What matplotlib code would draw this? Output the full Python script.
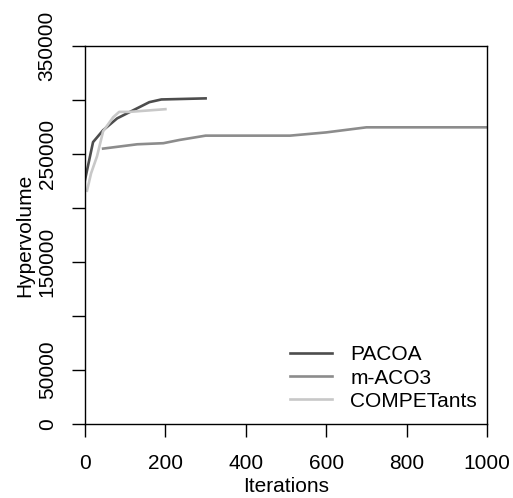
import matplotlib
matplotlib.use("Agg")
import matplotlib.pyplot as plt

plt.rcParams['font.family'] = ['Liberation Sans', 'DejaVu Sans']

pacoa_x = [0, 20, 45, 80, 120, 160, 190, 300]
pacoa_y = [226000, 261000, 272000, 283000, 290500, 298000, 300500, 301500]
maco3_x = [45, 130, 195, 235, 300, 510, 600, 700, 1000]
maco3_y = [255000, 259000, 260000, 263000, 267000, 267000, 270000, 274700, 274700]
compet_x = [5, 15, 30, 45, 70, 85, 110, 200]
compet_y = [216000, 232000, 248000, 271000, 284000, 289000, 289000, 291500]

xticks = [0, 200, 400, 600, 800, 1000]
yticks = [0, 50000, 100000, 150000, 200000, 250000, 300000, 350000]
ytick_labels = ['0', '50000', '', '150000', '', '250000', '', '350000']

fig = plt.figure(figsize=(5.13, 4.98), dpi=100)
ax = fig.add_axes([85/513, 1-424/498, (487-85)/513, (424-46)/498])

ax.plot(pacoa_x, pacoa_y, color='#4d4d4d', lw=1.9, label='PACOA')
ax.plot(maco3_x, maco3_y, color='#8c8c8c', lw=1.9, label='m-ACO3')
ax.plot(compet_x, compet_y, color='#c8c8c8', lw=1.9, label='COMPETants')

ax.set_xlim(0, 1000)
ax.set_ylim(0, 350000)
ax.set_xticks(xticks)
ax.set_xticklabels([str(v) for v in xticks])
ax.set_yticks(yticks)
ax.set_yticklabels(ytick_labels)
for lbl in ax.get_yticklabels():
    lbl.set_rotation(90)
    lbl.set_va('center')

fs = 15
ax.tick_params(axis='both', direction='out', length=9.4, width=1.0, labelsize=fs, color='black')
ax.tick_params(axis='x', pad=12)
ax.tick_params(axis='y', pad=11)
for s in ax.spines.values():
    s.set_linewidth(1.0)
    s.set_color('black')

ax.set_xlabel('Iterations', fontsize=fs, va='center')
ax.xaxis.set_label_coords(0.5, (424-486)/378)
ax.set_ylabel('Hypervolume', fontsize=fs, va='center')
ax.yaxis.set_label_coords((25-85)/402, 0.5)

leg = ax.legend(loc='lower right', bbox_to_anchor=(0.975, 0.035), frameon=False,
                fontsize=fs, handlelength=2.0, handletextpad=0.87, labelspacing=0.2,
                borderpad=0, borderaxespad=0)

fig.savefig('out.png', dpi=100)
